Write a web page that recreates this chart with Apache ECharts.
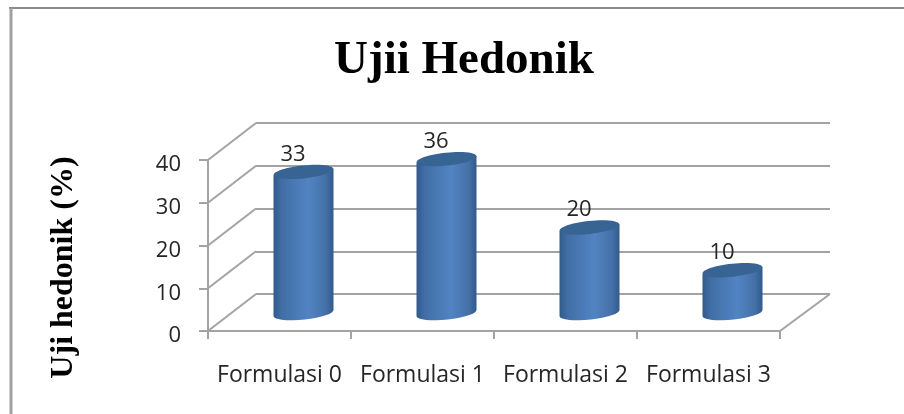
<!DOCTYPE html>
<html>
<head>
<meta charset="utf-8">
<style>
  html, body { margin: 0; padding: 0; background: #fff; }
  #main { width: 904px; height: 414px; }
</style>
<script src="https://cdn.jsdelivr.net/npm/echarts@6/dist/echarts.min.js"></script>
</head>
<body>
<div id="main"></div>
<script>
var categories = ['Formulasi 0', 'Formulasi 1', 'Formulasi 2', 'Formulasi 3'];
var hedonik = [33, 36, 20, 10];
var yTicks = [0, 10, 20, 30, 40];

var lineColor = '#a3a3a3';
var textColor = '#262626';
// depth of the fake 3d box, back wall vs front plane
var depthX = 48, depthY = -37;

var chart = echarts.init(document.getElementById('main'));

// diagonal lines on the left wall and floor
function renderWall(params, api) {
  var p = api.coord([0, api.value(0)]);
  var left = params.coordSys.x;
  var children = [{
    type: 'line',
    shape: { x1: left, y1: p[1], x2: left + depthX, y2: p[1] + depthY },
    style: { stroke: lineColor, lineWidth: 2 }
  }];
  if (api.value(0) === 0) {
    var right = left + params.coordSys.width;
    children.push({
      type: 'line',
      shape: { x1: right, y1: p[1], x2: right + depthX + 2, y2: p[1] + depthY },
      style: { stroke: lineColor, lineWidth: 2 }
    });
  }
  return { type: 'group', children: children };
}

// cylinder, tilted ellipses because of the 3d rotation
function renderCylinder(params, api) {
  var idx = api.value(0);
  var top = api.coord([idx, api.value(1)]);
  var base = api.coord([idx, 0]);
  var rx = 30, ry = 6.5, rise = 3.3;
  var cx = top[0];
  var body = [
    'M', cx - rx, top[1] + rise,
    'L', cx - rx, base[1] + rise,
    'A', rx, ry, -6, 0, 0, cx + rx, base[1] - rise,
    'L', cx + rx, top[1] - rise,
    'Z'
  ].join(' ');
  return {
    type: 'group',
    children: [{
      type: 'path',
      shape: { pathData: body },
      style: {
        fill: new echarts.graphic.LinearGradient(0, 0, 1, 0, [
          { offset: 0, color: '#315a8b' },
          { offset: 0.14, color: '#416ea5' },
          { offset: 0.58, color: '#5284c3' },
          { offset: 0.87, color: '#4470a7' },
          { offset: 1, color: '#315a8b' }
        ])
      }
    }, {
      type: 'ellipse',
      shape: { cx: cx, cy: top[1], rx: rx, ry: ry },
      rotation: 6 * Math.PI / 180,
      originX: cx,
      originY: top[1],
      style: { fill: '#386493' }
    }, {
      type: 'text',
      style: {
        text: String(api.value(1)),
        x: cx - 10.5,
        y: top[1] - 17.5,
        align: 'center',
        verticalAlign: 'middle',
        fill: textColor,
        font: '22px "Open Sans"'
      }
    }]
  };
}

var option = {
  backgroundColor: '#fff',
  animation: false,
  title: {
    text: 'Ujii Hedonik',
    left: 459,
    top: 32,
    textAlign: 'center',
    textStyle: { fontFamily: 'Liberation Serif', fontWeight: 'bold', fontSize: 47, color: '#000' }
  },
  // the outer frame only has a top and a left edge, the rest is cropped away
  graphic: [{
    type: 'line',
    shape: { x1: 9, y1: 8, x2: 904, y2: 8 },
    style: { stroke: '#8a8a8a', lineWidth: 2 }
  }, {
    type: 'line',
    shape: { x1: 11, y1: 8, x2: 11, y2: 414 },
    style: { stroke: '#a0a0a0', lineWidth: 3 }
  }],
  grid: [
    // front plane carries the axes
    { left: 208, top: 160, width: 572, height: 171 },
    // back wall, gridlines only
    { left: 256, top: 123, width: 574, height: 171 },
    // middle of the box, the bars stand here
    { left: 232, top: 142, width: 572, height: 171 }
  ],
  xAxis: [
    {
      gridIndex: 0, type: 'category', data: categories,
      axisLine: { lineStyle: { color: lineColor, width: 2 } },
      axisTick: { show: true, interval: 0, length: 8, lineStyle: { color: lineColor, width: 2 } },
      axisLabel: { interval: 0, color: textColor, fontFamily: 'Open Sans', fontSize: 23, margin: 33 }
    },
    { gridIndex: 1, type: 'category', data: categories, show: false },
    { gridIndex: 2, type: 'category', data: categories, show: false }
  ],
  yAxis: [
    {
      gridIndex: 0, type: 'value', min: 0, max: 40, interval: 10,
      name: 'Uji hedonik (%)',
      nameLocation: 'middle',
      nameRotate: 90,
      nameGap: 128,
      nameTextStyle: {
        fontFamily: 'Liberation Serif', fontWeight: 'bold', fontSize: 32, color: '#000',
        padding: [0, 44, 0, 0]
      },
      axisLine: { show: true, lineStyle: { color: lineColor, width: 2 } },
      axisTick: { show: true, length: 9, lineStyle: { color: lineColor, width: 2 } },
      axisLabel: {
        color: textColor, fontFamily: 'Open Sans', fontSize: 22, margin: 27,
        // labels sit a bit under their ticks in the original
        verticalAlign: 'top', lineHeight: 10
      },
      splitLine: { show: false }
    },
    {
      gridIndex: 1, type: 'value', min: 0, max: 40, interval: 10,
      axisLine: { show: false }, axisTick: { show: false }, axisLabel: { show: false },
      splitLine: { show: true, lineStyle: { color: lineColor, width: 2 } }
    },
    {
      gridIndex: 2, type: 'value', min: 0, max: 40, interval: 10,
      axisLine: { show: false }, axisTick: { show: false }, axisLabel: { show: false },
      splitLine: { show: false }
    }
  ],
  series: [
    {
      type: 'custom', name: 'wall', xAxisIndex: 0, yAxisIndex: 0,
      renderItem: renderWall, data: yTicks.map(function (v) { return [v]; }),
      encode: { y: 0 }, silent: true, z: 1
    },
    {
      type: 'custom', name: 'Uji hedonik', xAxisIndex: 2, yAxisIndex: 2,
      renderItem: renderCylinder,
      data: hedonik.map(function (v, i) { return [i, v]; }),
      encode: { x: 0, y: 1 }, z: 3
    }
  ]
};

chart.setOption(option);
</script>
</body>
</html>
